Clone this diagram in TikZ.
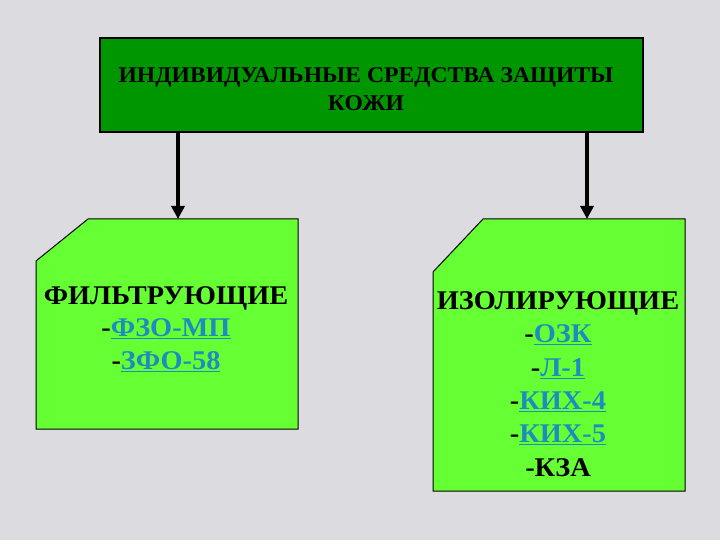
\documentclass[tikz,border=0pt]{standalone}
\usepackage{fontspec}
\setmainfont{Liberation Serif}
\newfontfamily\wideserif[FakeStretch=1.05]{Liberation Serif}
\usetikzlibrary{arrows.meta}
\definecolor{bgmarble}{RGB}{220,220,224}
\definecolor{topgreen}{RGB}{0,150,0}
\definecolor{lightgreen}{RGB}{102,255,51}
\definecolor{linkblue}{RGB}{30,140,190}
\newcommand{\lnk}[1]{\textcolor{linkblue}{\underline{#1}}}
\tikzset{
  topbox/.style={draw=black, line width=1.5bp, fill=topgreen},
  subbox/.style={draw=black, line width=1bp, fill=lightgreen},
  conn/.style={line width=3.5bp, -{Triangle[width=13bp,length=13bp]}},
  toptext/.style={align=center, font=\wideserif\bfseries\fontsize{22.5bp}{28bp}\selectfont, text=black},
  subtext/.style={align=center, font=\wideserif\bfseries\fontsize{27bp}{32.5bp}\selectfont, text=black},
  subtextR/.style={align=center, font=\wideserif\bfseries\fontsize{27bp}{33.4bp}\selectfont, text=black}
}
\begin{document}
\begin{tikzpicture}[x=1bp,y=-1bp]
\fill[bgmarble] (0,0) rectangle (720,540);
\useasboundingbox (0,0) rectangle (720,540);
% top box
\draw[topbox] (100,38) rectangle (643,132);
\node[toptext] (top) at (366,89) {ИНДИВИДУАЛЬНЫЕ СРЕДСТВА ЗАЩИТЫ\\КОЖИ};
% left box
\draw[subbox] (36,261) -- (88,219) -- (298,219) -- (298,429) -- (36,429) -- cycle;
\node[subtext] (left) at (166,329) {ФИЛЬТРУЮЩИЕ\\-\lnk{ФЗО-МП}\\-\lnk{ЗФО-58}};
% right box
\draw[subbox] (433,272) -- (483,219) -- (685,219) -- (685,491) -- (433,491) -- cycle;
\node[subtextR] (right) at (558,384) {ИЗОЛИРУЮЩИЕ\\-\lnk{ОЗК}\\-\lnk{Л-1}\\-\lnk{КИХ-4}\\-\lnk{КИХ-5}\\-КЗА};
% connectors
\coordinate (a1) at (178,132);
\coordinate (a2) at (178,219);
\coordinate (b1) at (587,132);
\coordinate (b2) at (587,219);
\draw[conn] (a1) -- (a2);
\draw[conn] (b1) -- (b2);
\end{tikzpicture}
\end{document}
